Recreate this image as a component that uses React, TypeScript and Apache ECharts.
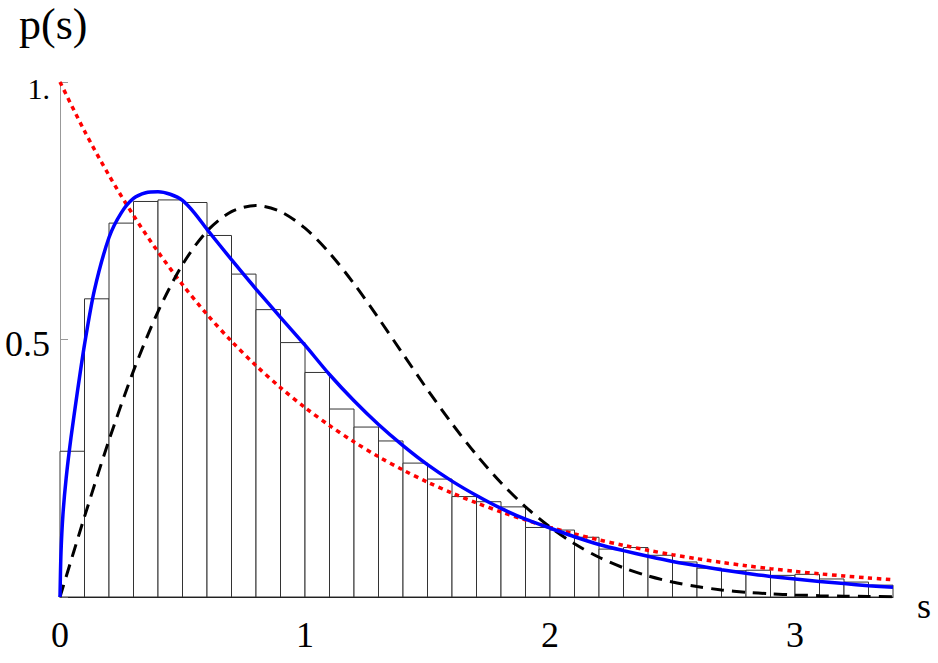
import React, { useEffect, useRef } from "react";
import * as echarts from "echarts";

// Histogram: bin width and heights
const binWidth = 0.1;
const binHeights = [
  0.283, 0.579, 0.726, 0.768, 0.771, 0.766, 0.702, 0.627, 0.558, 0.494,
  0.436, 0.365, 0.330, 0.303, 0.260, 0.229, 0.195, 0.185, 0.175, 0.135,
  0.130, 0.116, 0.093, 0.096, 0.081, 0.068, 0.056, 0.051, 0.052, 0.042,
  0.044, 0.035, 0.029, 0.023,
];

// Sample grid for the red (Poisson) and black (Wigner) curves
const sGrid = [
  0, 0.1, 0.2, 0.3, 0.4, 0.5, 0.6, 0.7, 0.8, 0.9, 1.0, 1.1, 1.2, 1.3, 1.4,
  1.5, 1.6, 1.7, 1.8, 1.9, 2.0, 2.1, 2.2, 2.3, 2.4, 2.5, 2.6, 2.7, 2.8, 2.9,
  3.0, 3.1, 3.2, 3.3, 3.4,
];
const redValues = [
  1.0, 0.9048, 0.8187, 0.7408, 0.6703, 0.6065, 0.5488, 0.4966, 0.4493, 0.4066,
  0.3679, 0.3329, 0.3012, 0.2725, 0.2466, 0.2231, 0.2019, 0.1827, 0.1653,
  0.1496, 0.1353, 0.1225, 0.1108, 0.1003, 0.0907, 0.0821, 0.0743, 0.0672,
  0.0608, 0.055, 0.0498, 0.045, 0.0408, 0.0369, 0.0334,
];
const blackValues = [
  0, 0.1558, 0.3044, 0.4391, 0.5541, 0.6454, 0.7104, 0.7483, 0.7602, 0.7483,
  0.7161, 0.668, 0.6083, 0.5415, 0.4717, 0.4025, 0.3366, 0.2759, 0.2219,
  0.1752, 0.1358, 0.1033, 0.0772, 0.0567, 0.0409, 0.029, 0.0202, 0.0138,
  0.0093, 0.0062, 0.004, 0.0026, 0.0016, 0.001, 0.0006,
];

// Blue curve (fit), denser near the origin
const blueS = [
  0, 0.004, 0.012, 0.025, 0.045, 0.07, 0.1, 0.14, 0.2, 0.25, 0.3,
  0.35, 0.4, 0.45, 0.5, 0.55, 0.6, 0.7, 0.8, 0.9, 1.0, 1.1, 1.2, 1.3, 1.4,
  1.5, 1.6, 1.7, 1.8, 1.9, 2.0, 2.1, 2.2, 2.3, 2.4, 2.5, 2.6, 2.7, 2.8, 2.9,
  3.0, 3.1, 3.2, 3.3, 3.4,
];
const blueValues = [
  0, 0.085, 0.16, 0.23, 0.31, 0.395, 0.49, 0.595, 0.698,
  0.746, 0.774, 0.785, 0.787, 0.782, 0.77, 0.745, 0.714, 0.655, 0.598,
  0.543, 0.489, 0.432, 0.381, 0.335, 0.294, 0.257, 0.225, 0.197, 0.172,
  0.151, 0.134, 0.117, 0.102, 0.09, 0.079, 0.069, 0.061, 0.053, 0.046, 0.04,
  0.035, 0.03, 0.026, 0.022, 0.019,
];

const xTickLabels = ["0", "1", "2", "3"];

const FONT = "'Liberation Serif', 'Times New Roman', serif";

export default function App() {
  const ref = useRef<HTMLDivElement>(null);

  useEffect(() => {
    document.body.style.margin = "0";
    if (!ref.current) return;
    const chart = echarts.init(ref.current, null, { renderer: "svg" });

    const histData = binHeights.map((h, i) => [
      +(i * binWidth).toFixed(2),
      +((i + 1) * binWidth).toFixed(2),
      h,
    ]);

    chart.setOption({
      animation: false,
      backgroundColor: "#ffffff",
      grid: { left: 60, right: 45, top: 82, bottom: 66, containLabel: false },
      xAxis: {
        type: "value",
        min: 0,
        max: 3.4,
        interval: 1,
        splitLine: { show: false },
        axisLine: { show: true, lineStyle: { color: "#111", width: 1 } },
        axisTick: { show: false },
        axisLabel: {
          show: true,
          showMaxLabel: false,
          margin: 20,
          fontFamily: FONT,
          fontSize: 36,
          color: "#000",
          formatter: (v: number) => {
            const idx = Math.round(v);
            return Math.abs(v - idx) < 1e-6 && idx < xTickLabels.length
              ? xTickLabels[idx]
              : "";
          },
        },
      },
      yAxis: {
        type: "value",
        min: 0,
        max: 1,
        interval: 0.5,
        splitLine: { show: false },
        axisLine: { show: true, onZero: false, lineStyle: { color: "#999", width: 1 } },
        axisTick: { show: true, inside: true, length: 8, lineStyle: { color: "#999", width: 1 } },
        axisLabel: {
          margin: 10,
          color: "#000",
          fontFamily: FONT,
          fontSize: 36,
          formatter: (v: number) => {
            if (Math.abs(v - 1) < 1e-6) return "{small|1.}";
            if (Math.abs(v - 0.5) < 1e-6) return "{big|0.5}";
            return "";
          },
          rich: {
            small: { fontFamily: FONT, fontSize: 30, color: "#000", padding: [12, 0, 0, 0] },
            big: { fontFamily: FONT, fontSize: 36, color: "#000", padding: [8, 0, 0, 0] },
          },
        },
      },
      series: [
        {
          type: "custom",
          name: "hist",
          data: histData,
          encode: { x: [0, 1], y: 2 },
          renderItem: (params: any, api: any) => {
            const x0 = api.value(0);
            const x1 = api.value(1);
            const h = api.value(2);
            const p0 = api.coord([x0, h]);
            const p1 = api.coord([x1, 0]);
            return {
              type: "rect",
              shape: {
                x: p0[0],
                y: p0[1],
                width: p1[0] - p0[0],
                height: p1[1] - p0[1],
              },
              style: { fill: "#ffffff", stroke: "#333", lineWidth: 1 },
            };
          },
          z: 1,
        },
        {
          type: "line",
          name: "Poisson",
          data: sGrid.map((s, i) => [s, redValues[i]]),
          showSymbol: false,
          smooth: 0.3,
          lineStyle: { color: "#ff0000", width: 3.5, type: [4.5, 4.5], cap: "butt" },
          z: 3,
        },
        {
          type: "line",
          name: "Wigner",
          data: sGrid.map((s, i) => [s, blackValues[i]]),
          showSymbol: false,
          smooth: 0.3,
          lineStyle: { color: "#000000", width: 3, type: [13, 8], cap: "butt" },
          z: 4,
        },
        {
          type: "line",
          name: "fit",
          data: blueS.map((s, i) => [s, blueValues[i]]),
          showSymbol: false,
          smooth: 0.25,
          lineStyle: { color: "#0000ff", width: 3.5 },
          z: 5,
        },
      ],
      graphic: [
        {
          type: "text",
          left: 19,
          top: 2,
          style: { text: "p(s)", font: `44px ${FONT}`, fill: "#000" },
        },
        {
          type: "text",
          left: 917,
          top: 588,
          style: { text: "s", font: `36px ${FONT}`, fill: "#000" },
        },
      ],
    });

    return () => chart.dispose();
  }, []);

  return <div ref={ref} style={{ width: 938, height: 663 }} />;
}
